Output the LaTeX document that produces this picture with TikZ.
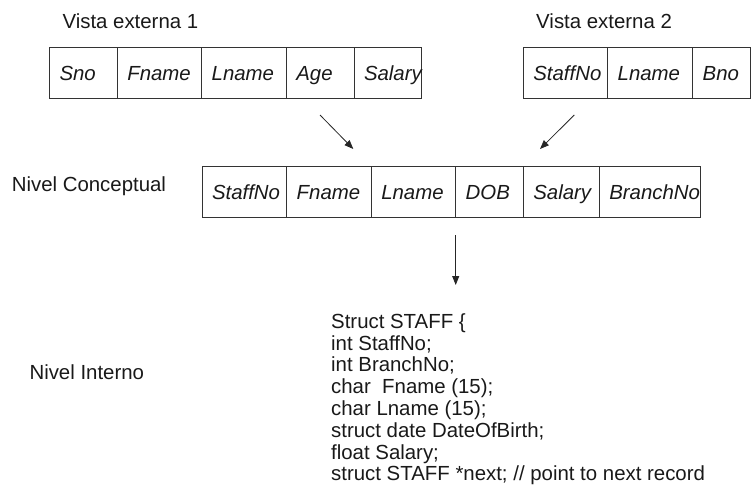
\documentclass[tikz,border=0pt]{standalone}
\usepackage{fontspec}
\setmainfont{Liberation Sans}
\usetikzlibrary{positioning,arrows.meta}
\newcommand{\lblsize}{\fontsize{20.4}{21.8}\selectfont}
\begin{document}
\begin{tikzpicture}[x=1pt,y=-1pt,
		every node/.style={font=\lblsize,text=black!90},
		cell/.style={draw=black!80,line width=0.8pt,outer sep=0pt,inner xsep=10pt,inner ysep=0pt,
			minimum height=50.6pt,text height=14.7pt,text depth=0pt,align=left,text width=#1,
			font=\lblsize\itshape},
		lvl/.style={anchor=base west},
		flow/.style={line width=0.8pt,draw=black!85,-{Triangle[length=9pt,width=7pt]}}]
		\useasboundingbox (0,0) rectangle (751,488);
		%\draw[red] (0,0) rectangle (751,488);
		\coordinate (E1) at (49.5,47.7);
		\coordinate (E2) at (523.3,47.7);
		\coordinate (CN) at (202,166.7);
		\coordinate (A1) at (320,115);
		\coordinate (A1') at (353.3,149);
		\coordinate (A2) at (574.3,115);
		\coordinate (A2') at (540,149);
		\coordinate (A3) at (455.7,235);
		\coordinate (A3') at (455.7,285);
		% vista externa 1
		\node[lvl] (v1) at (59,28.3) {Vista externa 1};
		\node[cell=47.8pt,anchor=north west] (v1a) at (E1) {Sno};
		\node[cell=64.4pt,right=0pt of v1a] (v1b) {Fname};
		\node[cell=64.6pt,right=0pt of v1b] (v1c) {Lname};
		\node[cell=47.7pt,right=0pt of v1c] (v1d) {Age};
		\node[cell=47.7pt,right=0pt of v1d] (v1e) {Salary};
		% vista externa 2
		\node[lvl] (v2) at (532.7,28.3) {Vista externa 2};
		\node[cell=64.4pt,anchor=north west] (v2a) at (E2) {StaffNo};
		\node[cell=65pt,right=0pt of v2a] (v2b) {Lname};
		\node[cell=37.3pt,right=0pt of v2b] (v2c) {Bno};
		% nivel conceptual
		\node[lvl] (nc) at (8.3,191.7) {Nivel Conceptual};
		\node[cell=64.7pt,anchor=north west] (nca) at (CN) {StaffNo};
		\node[cell=64.6pt,right=0pt of nca] (ncb) {Fname};
		\node[cell=64.4pt,right=0pt of ncb] (ncc) {Lname};
		\node[cell=47.6pt,right=0pt of ncc] (ncd) {DOB};
		\node[cell=56pt,right=0pt of ncd] (nce) {Salary};
		\node[cell=81.4pt,right=0pt of nce] (ncf) {BranchNo};
		% nivel interno (base = last line)
		\node[lvl] (ni) at (26,379.3) {Nivel Interno};
		\node[lvl,align=left,inner sep=0pt] (st) at (331,480.9) {Struct STAFF \{\\
			int StaffNo;\\
			int BranchNo;\\
			char~ Fname (15);\\
			char Lname (15);\\
			struct date DateOfBirth;\\
			float Salary;\\
			struct STAFF *next; // point to next record};
		\draw[flow] (A1) to (A1');
		\draw[flow] (A2) to (A2');
		\draw[flow] (A3) to (A3');
	\end{tikzpicture}
\end{document}
